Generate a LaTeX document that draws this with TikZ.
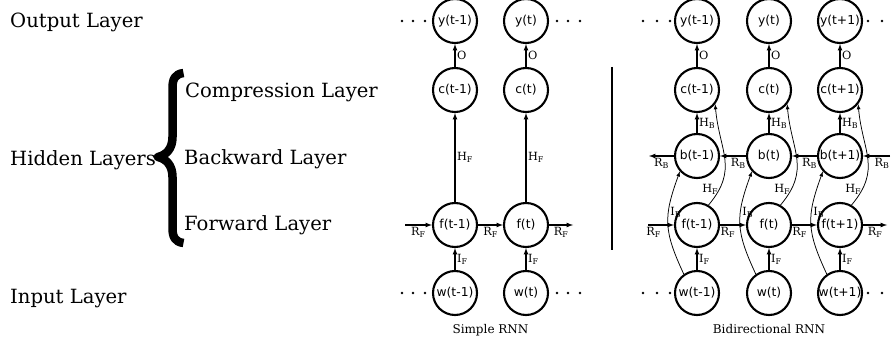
\documentclass[tikz,border=0pt]{standalone}
\usepackage{fontspec}
\setmainfont{DejaVu Serif}
\newfontfamily\cellfont{DejaVu Sans}
\newcommand{\wgt}[2]{#1\textsubscript{#2}}
\usetikzlibrary{arrows}

\begin{document}
\begin{tikzpicture}[x=1pt,y=1pt,>=latex,
  cell/.style={circle,draw,line width=2.1pt,minimum size=44pt,inner sep=0pt,font=\cellfont\fontsize{12.3}{14}\selectfont},
  arr/.style={->,line width=1.2pt},
  loop/.style={->,line width=0.75pt,looseness=1.2},
  lbl/.style={font=\fontsize{11.3}{13}\selectfont,inner sep=1.5pt},
  layer/.style={anchor=base west,inner sep=0pt,font=\fontsize{19.6}{23}\selectfont},
  caption/.style={anchor=base,font=\fontsize{12}{14}\selectfont}]
\useasboundingbox (0,0) rectangle (891,346);
\def\yY{325} 
\def\yC{256} 
\def\yB{190} 
\def\yF{121} 
\def\yW{53} 
% layer names
\node[layer] (out) at (10,318) {Output Layer};
\node[layer] (hid) at (10,181) {Hidden Layers};
\node[layer] (inp) at (10,43) {Input Layer};
\node[layer] (comp) at (185,248) {Compression Layer};
\node[layer] (back) at (184,182) {Backward Layer};
\node[layer] (forw) at (184,116) {Forward Layer};
\draw[line width=8.5pt,line join=round] (183.5,273) .. controls (175,272) and (172.5,267) .. (172.5,258) -- (172.5,209)
  .. controls (172.5,197) and (166,191) .. (158,189) .. controls (166,187) and (172.5,181) .. (172.5,169) -- (172.5,118)
  .. controls (172.5,109) and (175,104) .. (183.5,103);
% simple RNN
\foreach \x in {402,413,425,557,568,580} {\fill (\x,\yY) circle (1.3); \fill (\x,\yW) circle (1.3);}
\foreach \i/\x/\t in {1/455/t-1,2/526/t} {
  \node[cell] (sy\i) at (\x,\yY) {y(\t)};
  \node[cell] (sc\i) at (\x,\yC) {c(\t)};
  \node[cell] (sf\i) at (\x,\yF) {f(\t)};
  \node[cell] (sw\i) at (\x,\yW) {w(\t)};
  \draw[arr] (sc\i) -- node[lbl,right] {O} (sy\i);
  \draw[arr] (sf\i) -- node[lbl,right] {\wgt{H}{F}} (sc\i);
  \draw[arr] (sw\i) -- node[lbl,right] {\wgt{I}{F}} (sf\i);
}
\coordinate (sin) at (405,\yF);
\coordinate (sout) at (573,\yF);
\draw[arr] (sin) -- node[lbl,below] {\wgt{R}{F}} (sf1);
\draw[arr] (sf1) -- node[lbl,below] {\wgt{R}{F}} (sf2);
\draw[arr] (sf2) -- node[lbl,below] {\wgt{R}{F}} (sout);
\node[caption] (scap) at (490.5,13) {Simple RNN};
\draw[line width=1.5pt] (612,279) -- (612,96);
% bidirectional RNN
\foreach \x in {643,657,670,868,882} {\fill (\x,\yY) circle (1.3); \fill (\x,\yW) circle (1.3);}
\foreach \i/\x/\t in {1/697/t-1,2/769/t,3/840/t+1} {
  \node[cell] (by\i) at (\x,\yY) {y(\t)};
  \node[cell] (bc\i) at (\x,\yC) {c(\t)};
  \node[cell] (bb\i) at (\x,\yB) {b(\t)};
  \node[cell] (bf\i) at (\x,\yF) {f(\t)};
  \node[cell] (bw\i) at (\x,\yW) {w(\t)};
  \draw[arr] (bc\i) -- node[lbl,right] {O} (by\i);
  \draw[arr] (bb\i) -- node[lbl,right] {\wgt{H}{B}} (bc\i);
  \draw[arr] (bw\i) -- node[lbl,right] {\wgt{I}{F}} (bf\i);
  \draw[loop] (bw\i.125) to[out=115,in=250] node[lbl,pos=.62,right] {\wgt{I}{B}} (bb\i.222);
  \draw[loop] (bf\i.60) to[out=50,in=-85] node[lbl,pos=.15,left,inner sep=.5pt] {\wgt{H}{F}} (bc\i.-38);
}
\coordinate (bin) at (648,\yF);
\coordinate (bout) at (887,\yF);
\draw[arr] (bin) -- node[lbl,below,pos=.22] {\wgt{R}{F}} (bf1);
\draw[arr] (bf1) -- node[lbl,below,pos=.3] {\wgt{R}{F}} (bf2);
\draw[arr] (bf2) -- node[lbl,below,pos=.3] {\wgt{R}{F}} (bf3);
\draw[arr] (bf3) -- node[lbl,below] {\wgt{R}{F}} (bout);
\coordinate (bbin) at (890,\yB);
\coordinate (bbout) at (649,\yB);
\draw[arr] (bbin) -- node[lbl,below,pos=.3] {\wgt{R}{B}} (bb3);
\draw[arr] (bb3) -- node[lbl,below,pos=.3] {\wgt{R}{B}} (bb2);
\draw[arr] (bb2) -- node[lbl,below,pos=.3] {\wgt{R}{B}} (bb1);
\draw[arr] (bb1) -- node[lbl,below] {\wgt{R}{B}} (bbout);
\node[caption] (bcap) at (769,13) {Bidirectional RNN};
\end{tikzpicture}
\end{document}
